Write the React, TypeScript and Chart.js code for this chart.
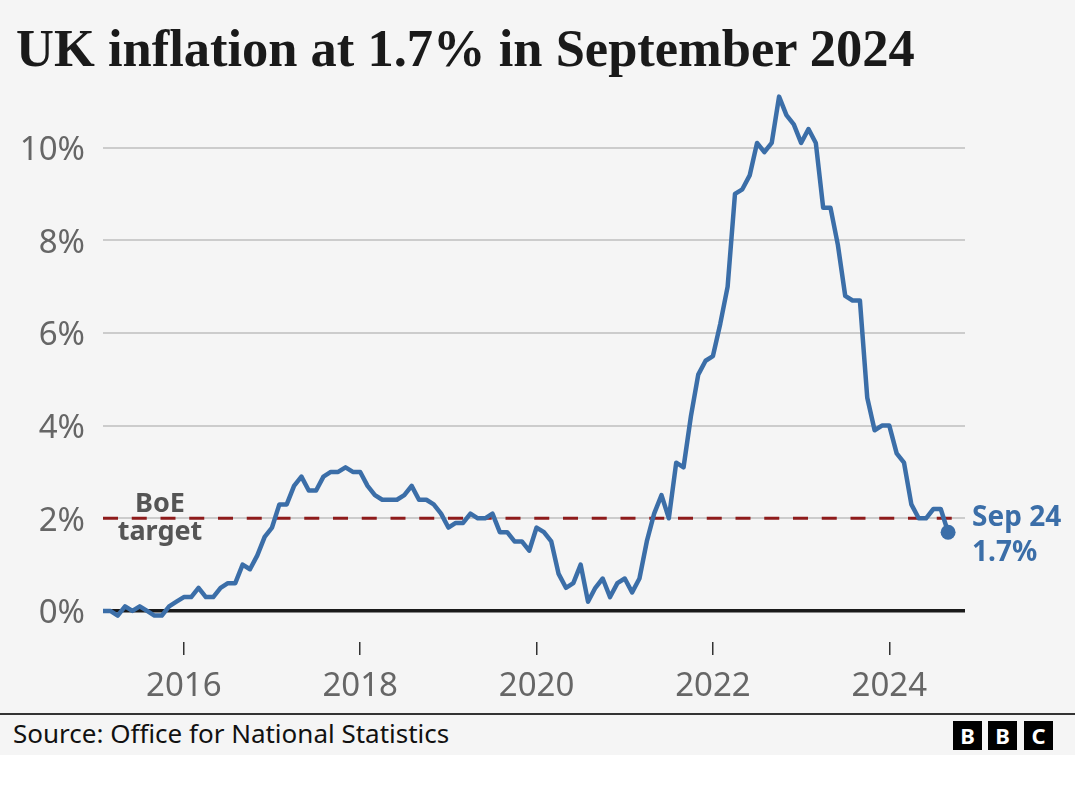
import React, { useEffect, useRef } from "react";
import { Chart, registerables } from "chart.js";

Chart.register(...registerables);

// UK CPI annual rate (%), monthly, Feb 2015 – Sep 2024
const cpi2015 = [0.0, 0.0, -0.1, 0.1, 0.0, 0.1, 0.0, -0.1, -0.1, 0.1, 0.2]; // Feb–Dec
const cpi2016 = [0.3, 0.3, 0.5, 0.3, 0.3, 0.5, 0.6, 0.6, 1.0, 0.9, 1.2, 1.6];
const cpi2017 = [1.8, 2.3, 2.3, 2.7, 2.9, 2.6, 2.6, 2.9, 3.0, 3.0, 3.1, 3.0];
const cpi2018 = [3.0, 2.7, 2.5, 2.4, 2.4, 2.4, 2.5, 2.7, 2.4, 2.4, 2.3, 2.1];
const cpi2019 = [1.8, 1.9, 1.9, 2.1, 2.0, 2.0, 2.1, 1.7, 1.7, 1.5, 1.5, 1.3];
const cpi2020 = [1.8, 1.7, 1.5, 0.8, 0.5, 0.6, 1.0, 0.2, 0.5, 0.7, 0.3, 0.6];
const cpi2021 = [0.7, 0.4, 0.7, 1.5, 2.1, 2.5, 2.0, 3.2, 3.1, 4.2, 5.1, 5.4];
const cpi2022 = [5.5, 6.2, 7.0, 9.0, 9.1, 9.4, 10.1, 9.9, 10.1, 11.1, 10.7, 10.5];
const cpi2023 = [10.1, 10.4, 10.1, 8.7, 8.7, 7.9, 6.8, 6.7, 6.7, 4.6, 3.9, 4.0];
const cpi2024 = [4.0, 3.4, 3.2, 2.3, 2.0, 2.0, 2.2, 2.2, 1.7]; // Jan–Sep

const inflation = [
  ...cpi2015, ...cpi2016, ...cpi2017, ...cpi2018, ...cpi2019,
  ...cpi2020, ...cpi2021, ...cpi2022, ...cpi2023, ...cpi2024,
];
const firstMonthIndex = 1; // Feb 2015, counting months from Jan 2015 = 0
const baseYear = 2015;
const tickYears = [2016, 2018, 2020, 2022, 2024];
const yTicks = [0, 2, 4, 6, 8, 10];
const boeTarget = 2;
const xMin = 1;
const xMax = 118.3;
const yMin = -0.67;
const yMax = 11.48;
const lastLabel = ["Sep 24", "1.7%"];
const targetLabel = ["BoE", "target"];

const BLUE = "#3b6ea8";
const RED = "#8e1b1b";

export default function App() {
  const ref = useRef<HTMLCanvasElement>(null);

  useEffect(() => {
    const points = inflation.map((v, i) => ({ x: firstMonthIndex + i, y: v }));
    const last = points.length - 1;

    const annotations = {
      id: "annotations",
      afterDatasetsDraw(chart: any) {
        const { ctx, chartArea, scales } = chart;
        const xs = scales.x;
        const ys = scales.y;
        ctx.save();
        // BoE target label
        const ty = ys.getPixelForValue(boeTarget);
        ctx.font = "bold 27px 'Noto Sans'";
        ctx.fillStyle = "#555555";
        ctx.textAlign = "center";
        ctx.textBaseline = "alphabetic";
        const tx = chartArea.left + 57;
        ctx.fillText(targetLabel[0], tx, ty - 6);
        ctx.fillText(targetLabel[1], tx, ty + 22);
        // last value label
        const lx = xs.getPixelForValue(points[last].x);
        const ly = ys.getPixelForValue(points[last].y);
        ctx.font = "bold 28px 'Noto Sans'";
        ctx.fillStyle = BLUE;
        ctx.textAlign = "left";
        ctx.fillText(lastLabel[0], lx + 24, ly - 6);
        ctx.fillText(lastLabel[1], lx + 24, ly + 29);
        ctx.restore();
      },
    };

    const chart = new Chart(ref.current!, {
      type: "line",
      data: {
        datasets: [
          {
            data: points,
            borderColor: BLUE,
            borderWidth: 4.5,
            backgroundColor: BLUE,
            pointRadius: (c: any) => (c.dataIndex === last ? 7.5 : 0),
            pointBorderWidth: 0,
            pointBackgroundColor: BLUE,
            tension: 0,
            borderJoinStyle: "round",
            borderCapStyle: "round",
          },
          {
            data: [
              { x: xMin, y: boeTarget },
              { x: xMax, y: boeTarget },
            ],
            borderColor: RED,
            borderWidth: 3,
            borderDash: [15, 13.75],
            pointRadius: 0,
          },
        ],
      },
      options: {
        responsive: false,
        devicePixelRatio: 1,
        animation: false,
        events: [],
        layout: { padding: { top: 79, right: 110, left: 0, bottom: 0 } },
        plugins: { legend: { display: false }, tooltip: { enabled: false } },
        scales: {
          x: {
            type: "linear",
            min: xMin,
            max: xMax,
            afterBuildTicks: (s: any) => {
              s.ticks = tickYears.map((y) => ({ value: (y - baseYear) * 12 }));
            },
            afterFit: (s: any) => {
              s.height = 70;
            },
            ticks: {
              callback: (v: any) => String(baseYear + Number(v) / 12),
              font: { family: "'Noto Sans'", size: 33 },
              color: "#666666",
              padding: 12,
              maxRotation: 0,
              autoSkip: false,
            },
            grid: {
              drawOnChartArea: false,
              drawTicks: true,
              tickLength: 13,
              color: "#333333",
              lineWidth: 1.5,
            },
            border: { display: false },
          },
          y: {
            min: yMin,
            max: yMax,
            afterBuildTicks: (s: any) => {
              s.ticks = yTicks.map((v) => ({ value: v }));
            },
            afterFit: (s: any) => {
              s.width = 103;
            },
            ticks: {
              callback: (v: any) => v + "%",
              font: { family: "'Noto Sans'", size: 33 },
              color: "#666666",
              padding: 18,
              labelOffset: 3,
            },
            grid: {
              drawTicks: false,
              color: (c: any) => (c.tick && c.tick.value === 0 ? "#1a1a1a" : "#cccccc"),
              lineWidth: (c: any) => (c.tick && c.tick.value === 0 ? 3.5 : 2),
            },
            border: { display: false },
          },
        },
      },
      plugins: [annotations],
    } as any);
    return () => chart.destroy();
  }, []);

  return (
    <div style={{ position: "fixed", left: 0, top: 0, width: 1080, height: 786, background: "#ffffff", overflow: "hidden" }}>
      <div style={{ position: "absolute", left: 0, top: 0, width: 1075, height: 755, background: "#f5f5f5" }} />
      <canvas
        ref={ref}
        width={1075}
        height={712}
        style={{ position: "absolute", left: 0, top: 0, width: 1075, height: 712 }}
      />
      <div
        style={{
          position: "absolute",
          left: 16,
          top: 22,
          fontFamily: "'Liberation Serif', serif",
          fontWeight: "bold",
          fontSize: 52.5,
          lineHeight: "52.5px",
          color: "#1a1a1a",
          whiteSpace: "nowrap",
        }}
      >
        UK inflation at 1.7% in September 2024
      </div>
      <div style={{ position: "absolute", left: 0, top: 713, width: 1075, height: 2, background: "#333333" }} />
      <div
        style={{
          position: "absolute",
          left: 13,
          top: 720,
          fontFamily: "'Noto Sans', sans-serif",
          fontSize: 26,
          lineHeight: "26px",
          color: "#111111",
          whiteSpace: "nowrap",
        }}
      >
        Source: Office for National Statistics
      </div>
      {[
        { l: "B", x: 953 },
        { l: "B", x: 988 },
        { l: "C", x: 1024 },
      ].map((b, i) => (
        <div
          key={i}
          style={{
            position: "absolute",
            left: b.x,
            top: 721,
            width: 29,
            height: 29,
            background: "#000000",
            color: "#ffffff",
            fontFamily: "'Noto Sans', sans-serif",
            fontWeight: "bold",
            fontSize: 22,
            lineHeight: "29px",
            textAlign: "center",
          }}
        >
          {b.l}
        </div>
      ))}
    </div>
  );
}
